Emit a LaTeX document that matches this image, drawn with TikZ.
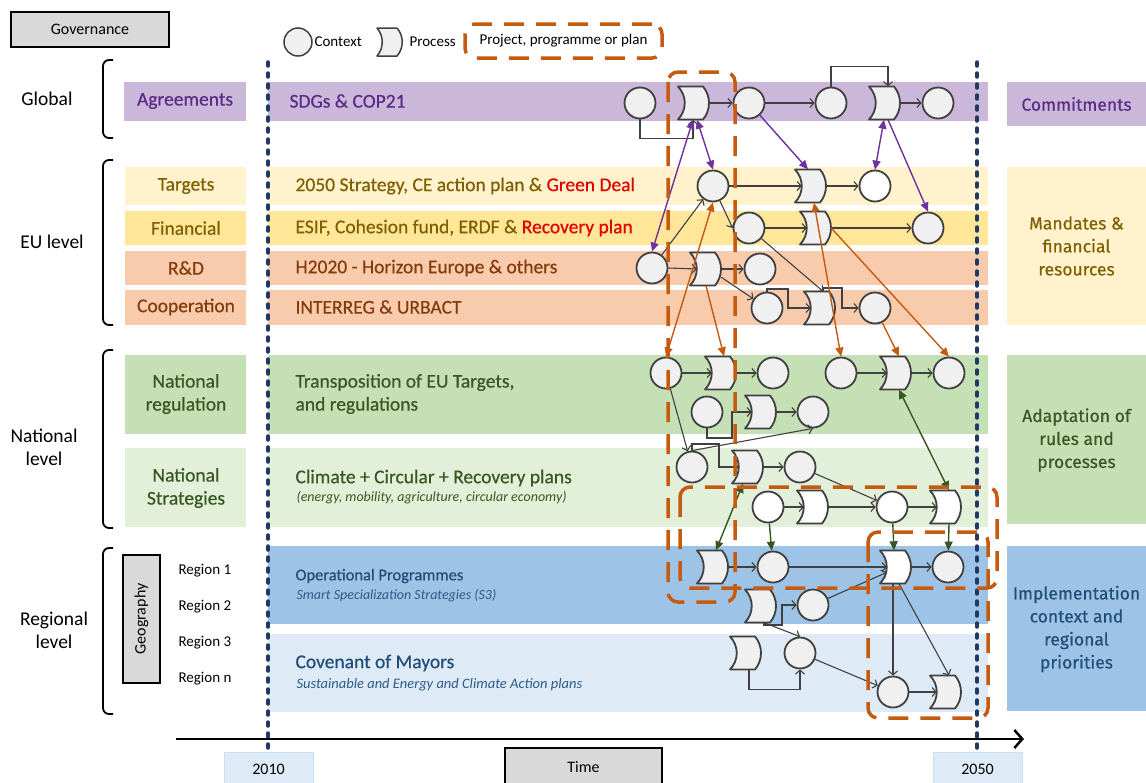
\documentclass[tikz,border=0pt]{standalone}
\usepackage{fontspec}
\setmainfont{Carlito}
\newfontfamily\fira{Fira Sans}[FakeBold=0.4]
\newfontfamily\medf{Carlito}[FakeBold=0.5]
\usetikzlibrary{arrows.meta,calc}
\definecolor{cpurband}{HTML}{CAB7D9}
\definecolor{ctxtpur}{HTML}{5B2C86}
\definecolor{ctarg}{HTML}{FFF2CC}
\definecolor{cfin}{HTML}{FFE699}
\definecolor{crd}{HTML}{F8CBAD}
\definecolor{ctxtolive}{HTML}{7F6000}
\definecolor{ctxtbrown}{HTML}{843C0C}
\definecolor{cnreg}{HTML}{C5E0B4}
\definecolor{cnstr}{HTML}{E2F0D9}
\definecolor{ctxtgreen}{HTML}{385723}
\definecolor{cop}{HTML}{9DC3E6}
\definecolor{ccov}{HTML}{DEEBF7}
\definecolor{ctxtblue}{HTML}{1F4E79}
\definecolor{ctxtblue2}{HTML}{2E5C8A}
\definecolor{cgray}{HTML}{D9D9D9}
\definecolor{ndraw}{HTML}{404040}
\definecolor{nfill}{HTML}{F0F0F0}
\definecolor{cpur}{HTML}{7030A0}
\definecolor{corange}{HTML}{C55A11}
\definecolor{cgreen}{HTML}{375623}
\definecolor{cnavy}{HTML}{1F3864}
\definecolor{cred}{HTML}{E00000}
\newcommand\fsz[2]{\fontsize{#1}{#2}\selectfont}
\newcommand\procnode[4][nfill]{%
  \node[pbox] (#2) at (#3,#4) {};
  \filldraw[pline,fill=#1] ({#3-19},{#4-16.5}) -- ({#3+6},{#4-16.5})
    .. controls ({#3+14},{#4-7}) and ({#3+14},{#4+7}) .. ({#3+6},{#4+16.5})
    -- ({#3-19},{#4+16.5})
    .. controls ({#3-10},{#4+7}) and ({#3-10},{#4-7}) .. ({#3-19},{#4-16.5}) -- cycle;}
\begin{document}
\begin{tikzpicture}[x=1pt,y=-1pt,
  ctx/.style={circle,draw=ndraw,fill=nfill,line width=1.8pt,minimum size=31pt,inner sep=0pt},
  pbox/.style={rectangle,minimum width=24pt,minimum height=33pt,inner sep=0pt},
  pline/.style={draw=ndraw,line width=1.8pt,line join=round},
  flow/.style={draw=ndraw,line width=1.1pt,-{Straight Barb[length=4pt,width=9pt]}},
  pur/.style={draw=cpur,line width=1.4pt,-{Triangle[length=9pt,width=8pt]}},
  purb/.style={pur,{Triangle[length=9pt,width=8pt]}-{Triangle[length=9pt,width=8pt]}},
  org/.style={draw=corange,line width=1.4pt,-{Triangle[length=9pt,width=8pt]}},
  orgb/.style={org,{Triangle[length=9pt,width=8pt]}-{Triangle[length=9pt,width=8pt]}},
  grn/.style={draw=cgreen,line width=1.4pt,-{Triangle[length=9pt,width=8pt]}},
  grnb/.style={grn,{Triangle[length=9pt,width=8pt]}-{Triangle[length=9pt,width=8pt]}},
  proj/.style={draw=corange,line width=3.5pt,dash pattern=on 20pt off 12pt,rounded corners=10pt},
  navy/.style={draw=cnavy,line width=3.5pt,dash pattern=on 4pt off 7pt,line cap=round},
  brk/.style={draw=black,line width=1.8pt,rounded corners=6pt},
  graybox/.style={draw=black,fill=cgray,line width=2pt,inner sep=0pt},
  lvl/.style={font=\fsz{19.5}{23},align=center},
  sub/.style={font=\medf\fsz{19.5}{23},align=center},
  main/.style={font=\medf\fsz{19.5}{23},anchor=west},
  rcol/.style={font=\fira\fsz{17.5}{23},align=center}]
\useasboundingbox (0,0) rectangle (1146,782);
% ---------------- bands
\fill[cpurband] (124,82) rectangle (246,121);
\fill[cpurband] (268,82) rectangle (988,121);
\fill[cpurband] (1007,82) rectangle (1146,126);
\fill[ctarg] (125,167) rectangle (246,205);
\fill[ctarg] (268,167) rectangle (988,205);
\fill[cfin] (125,211) rectangle (246,245);
\fill[cfin] (268,211) rectangle (988,245);
\fill[crd] (125,251) rectangle (246,285);
\fill[crd] (268,251) rectangle (988,285);
\fill[crd] (125,290) rectangle (246,325);
\fill[crd] (268,290) rectangle (988,325);
\fill[ctarg] (1007,167) rectangle (1146,325);
\fill[cnreg] (125,355) rectangle (246,434);
\fill[cnreg] (268,355) rectangle (988,434);
\fill[cnstr] (125,448) rectangle (246,527);
\fill[cnstr] (268,448) rectangle (988,527);
\fill[cnreg] (1007,355) rectangle (1146,524);
\fill[cop] (268,546) rectangle (988,624);
\fill[ccov] (268,634) rectangle (988,712);
\fill[cop] (1007,546) rectangle (1146,711);
% ---------------- governance, brackets, level labels
\node[graybox,minimum width=158pt,minimum height=35pt,font=\fsz{16}{19}] (gov) at (90,29.5) {Governance};
\draw[brk] (113,60) -- (103,60) -- (103,138) -- (113,138);
\draw[brk] (113,160) -- (103,160) -- (103,325) -- (113,325);
\draw[brk] (113,350) -- (103,350) -- (103,528) -- (113,528);
\draw[brk] (113,548) -- (103,548) -- (103,714) -- (113,714);
\node[lvl] (lglob) at (47,99) {Global};
\node[lvl] (leu) at (52,242) {EU level};
\node[lvl] (lnat) at (44,447) {National\\level};
\node[lvl] (lreg) at (54,630) {Regional\\level};
% ---------------- left sub labels
\node[sub,text=ctxtpur] (sagr) at (185,101) {Agreements};
\node[sub,text=ctxtolive] (starg) at (186,186) {Targets};
\node[sub,text=ctxtolive] (sfin) at (186,228) {Financial};
\node[sub,text=ctxtbrown] (srd) at (186,268) {R\&D};
\node[sub,text=ctxtbrown] (scoop) at (186,307) {Cooperation};
\node[sub,text=ctxtgreen] (snreg) at (186,394) {National\\regulation};
\node[sub,text=ctxtgreen] (snstr) at (186,488) {National\\Strategies};
\node[graybox,minimum width=37pt,minimum height=128pt] (geo) at (141.5,619) {};
\node[rotate=90,font=\fsz{16}{19}] (geot) at (geo.center) {Geography};
\node[anchor=west,font=\fsz{15}{18}] (r1) at (175,571) {Region 1};
\node[anchor=west,font=\fsz{15}{18}] (r2) at (175,607) {Region 2};
\node[anchor=west,font=\fsz{15}{18}] (r3) at (175,643) {Region 3};
\node[anchor=west,font=\fsz{15}{18}] (rn) at (175,679) {Region n};
% ---------------- main band texts
\node[main,text=ctxtpur] (tsdg) at (286,101) {SDGs \& COP21};
\node[main,text=ctxtolive] (t2050) at (292,186) {2050 Strategy, CE action plan \& \textcolor{cred}{Green Deal}};
\node[main,text=ctxtolive] (tesif) at (292,228) {ESIF, Cohesion fund, ERDF \& \textcolor{cred}{Recovery plan}};
\node[main,text=ctxtbrown] (th2020) at (292,268) {H2020 - Horizon Europe \& others};
\node[main,text=ctxtbrown] (tint) at (292,307) {INTERREG \& URBACT};
\node[main,text=ctxtgreen,align=left] (ttrans) at (292,394) {Transposition of EU Targets,\\and regulations};
\node[main,text=ctxtgreen] (tclim) at (292,478) {Climate + Circular + Recovery plans};
\node[anchor=west,text=ctxtgreen,font=\fsz{14}{17}\itshape] (tclim2) at (293,498) {(energy, mobility, agriculture, circular economy)};
\node[anchor=west,text=ctxtblue,font=\medf\fsz{16.5}{19}] (top) at (292,576) {Operational Programmes};
\node[anchor=west,text=ctxtblue2,font=\fsz{14}{17}\itshape] (top2) at (293,596) {Smart Specialization Strategies (S3)};
\node[main,text=ctxtblue] (tcov) at (292,663) {Covenant of Mayors};
\node[anchor=west,text=ctxtblue2,font=\fsz{14.5}{17}\itshape] (tcov2) at (293,685) {Sustainable and Energy and Climate Action plans};
% ---------------- right column
\node[rcol,text=ctxtpur] (rcom) at (1076.5,104) {Commitments};
\node[rcol,text=ctxtolive] (rman) at (1076.5,246) {Mandates \&\\financial\\resources};
\node[rcol,text=ctxtgreen] (rada) at (1076.5,440) {Adaptation of\\rules and\\processes};
\node[rcol,text=ctxtblue] (rimp) at (1076.5,629) {Implementation\\context and\\regional\\priorities};
% ---------------- time lines
\draw[navy] (268,62) -- (268,750);
\draw[navy] (977,62) -- (977,750);
\coordinate (axs) at (176,739);
\coordinate (axe) at (1024,739);
\draw[line width=2.5pt,-{Straight Barb[length=8pt,width=18pt]}] (axs) -- (axe);
\node[draw=ccov!70!cop,fill=ccov,line width=0.8pt,minimum width=89pt,minimum height=34pt,font=\fsz{16}{19}] (y2010) at (268.5,769) {2010};
\node[draw=ccov!70!cop,fill=ccov,line width=0.8pt,minimum width=89pt,minimum height=34pt,font=\fsz{16}{19}] (y2050) at (977.5,769) {2050};
\node[graybox,minimum width=157pt,minimum height=38pt,font=\fsz{16}{19}] (time) at (583.5,767) {Time};
% ---------------- legend
\node[ctx,minimum size=28pt,line width=1.5pt] (lctx) at (298,42) {};
\node[anchor=west,font=\fsz{15}{18}] (lctxt) at (311,42) {Context};
\filldraw[pline,line width=1.5pt,fill=nfill] (377,28) -- (397,28) .. controls (404,36) and (404,48) .. (397,56) -- (377,56) .. controls (384,48) and (384,36) .. (377,28) -- cycle;
\node[anchor=west,font=\fsz{15}{18}] (lproc) at (406,42) {Process};
\node[proj,minimum width=197pt,minimum height=34pt,font=\fsz{15}{18}] (lproj) at (563.5,41) {Project, programme or plan};
% ---------------- nodes
\node[ctx] (G1) at (640,103) {};
\procnode{G2}{697}{103}
\node[ctx] (G3) at (749,103) {};
\node[ctx] (G4) at (831,103) {};
\procnode{G5}{888}{103}
\node[ctx] (G6) at (938,103) {};
\node[ctx] (T1) at (713,186) {};
\procnode{T2}{814}{186}
\node[ctx,fill=white] (T3) at (875,186) {};
\node[ctx] (F1) at (749,228) {};
\procnode{F2}{819}{228}
\node[ctx] (F3) at (928,228) {};
\node[ctx] (R1) at (652,268) {};
\procnode{R2}{709}{269}
\node[ctx] (R3) at (760,269) {};
\node[ctx] (C1) at (767,308) {};
\procnode{C2}{823}{308}
\node[ctx] (C3) at (875,308) {};
\node[ctx] (N1) at (666,373) {};
\procnode{N2}{724}{373}
\node[ctx] (N3) at (773,373) {};
\node[ctx] (N4) at (841,373) {};
\procnode{N5}{899}{373}
\node[ctx] (N6) at (949,373) {};
\node[ctx] (N7) at (707,412) {};
\procnode{N8}{764}{412}
\node[ctx] (N9) at (813,412) {};
\node[ctx] (S1) at (692,467) {};
\procnode{S2}{751}{467}
\node[ctx] (S3) at (800,467) {};
\node[ctx,fill=white] (S4) at (768,507) {};
\procnode[white]{S5}{816}{507}
\node[ctx,fill=white] (S6) at (892,507) {};
\procnode[white]{S7}{949}{507}
\procnode{O1}{716}{567}
\node[ctx] (O2) at (773,567) {};
\procnode[white]{O3}{899}{567}
\node[ctx] (O4) at (948,567) {};
\procnode{O5}{764}{606}
\node[ctx] (O6) at (813,605) {};
\procnode{O7}{749}{653}
\node[ctx] (O8) at (800,653) {};
\node[ctx] (O9) at (893,692) {};
\procnode{O10}{949}{692}
% ---------------- gray flows
\draw[flow] (G1.south) -- ++(0,19) -| ([xshift=-4pt]G2.south);
\draw[flow] (G2.east) -- (G3.west);
\draw[flow] (G3.east) -- (G4.west);
\draw[flow] (G4.north) -- ++(0,-20) -| (G5.north);
\draw[flow] (G5.east) -- (G6.west);
\draw[flow] (T1.east) -- (T2.west);
\draw[flow] (T2.east) -- (T3.west);
\draw[flow] (T1) -- (F1.west);
\draw[flow] (F1.east) -- (F2.west);
\draw[flow] (F2.east) -- (F3.west);
\draw[flow] (R1) -- (T1);
\draw[flow] (R1.east) -- (R2.west);
\draw[flow] (R2.east) -- (R3.west);
\draw[flow] (R2) -- (C1);
\draw[flow] (F1) -- (C2.north);
\draw[flow] (C1.north) |- (788,289) |- (C2.west);
\draw[flow] (C2.north) |- (842,288) |- (C3.west);
\draw[flow] (N1.east) -- (N2.west);
\draw[flow] (N2.east) -- (N3.west);
\draw[flow] (N4.east) -- (N5.west);
\draw[flow] (N5.east) -- (N6.west);
\draw[flow] (N7.south) |- (732,438) |- (N8.west);
\draw[flow] (N8.east) -- (N9.west);
\draw[flow] (N1) -- (S1);
\draw[flow] (S1.north) -- (N9.south);
\draw[flow] (S1.north) |- (719,444) |- (S2.west);
\draw[flow] (S2.east) -- (S3.west);
\draw[flow] (S3) -- (S6);
\draw[flow] (S4.east) -- (S5.west);
\draw[flow] (S5.east) -- (S6.west);
\draw[flow] (S6.east) -- (S7.west);
\draw[flow] (O1.east) -- (O2.west);
\draw[flow] (O2.east) -- (O3.west);
\draw[flow] (O3.east) -- (O4.west);
\draw[flow] (O5.south) |- (782,625) |- (O6.west);
\draw[flow] (O6) -- (O3);
\draw[flow] (O5.south) -- (O8.north);
\draw[flow] (O7.south) |- ($(O8.south)+(0,20)$) -- (O8.south);
\draw[flow] (O8) -- (O9);
\draw[flow] (O9.east) -- (O10.west);
\draw[flow] ([xshift=-6pt]O3.south) -- (O9.north);
\draw[flow] (O3.south) -- (O10.north);
% ---------------- purple
\draw[purb] (G2.south) -- (T1.north);
\draw[purb] ([xshift=-4pt]G2.south) -- (R1.north);
\draw[pur] (G3) -- ([xshift=-6pt]T2.north);
\draw[purb] ([xshift=-4pt]G5.south) -- (T3.north);
\draw[pur] (G5.south) -- (F3.north);
% ---------------- orange
\draw[orgb] (T1.south) -- (N1.north);
\draw[org] ([xshift=-3pt]R2.south) -- (N2.north);
\draw[orgb] (T2.south) -- (N4.north);
\draw[org] (F2.east) -- (N6.north);
\draw[org] (C3) -- (N5.north);
% ---------------- green
\draw[grnb] (N5.south) -- (S7.north);
\draw[grnb] ([xshift=-8pt]S2.south) -- (O1.north);
\draw[grn] (S4) -- (O2);
\draw[grn] (S6) -- ([xshift=-5pt]O3.north);
\draw[grn] (S7.south) -- (O4);
% ---------------- project boxes
\draw[proj] (668,72) rectangle (735,602);
\draw[proj] (680,487) rectangle (997,588);
\draw[proj] (868,532) rectangle (988,718);
\end{tikzpicture}
\end{document}
